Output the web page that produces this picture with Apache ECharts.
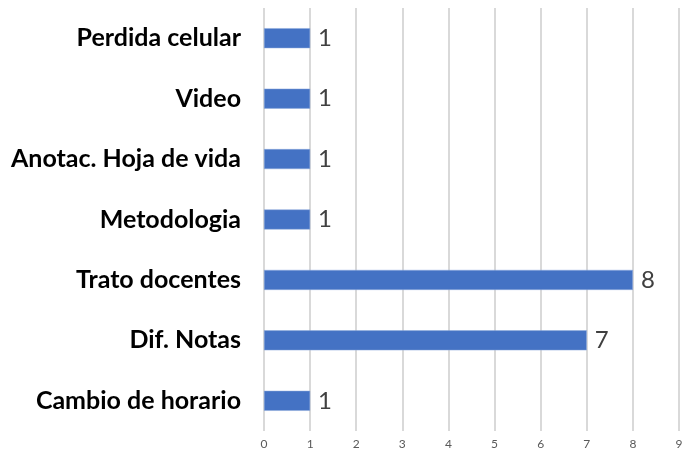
<!DOCTYPE html>
<html>
<head>
<meta charset="utf-8">
<script src="https://cdn.jsdelivr.net/npm/echarts@6/dist/echarts.min.js"></script>
<style>
  html, body { margin: 0; padding: 0; background: #ffffff; }
  #chart { width: 687px; height: 451px; }
</style>
</head>
<body>
<div id="chart"></div>
<script>
// Categories listed bottom to top, as drawn on the category axis
const categories = ['Cambio de horario', 'Dif. Notas', 'Trato docentes', 'Metodologia', 'Anotac. Hoja de vida', 'Video', 'Perdida celular'];
const values = [1, 7, 8, 1, 1, 1, 1];
const xTicks = [0, 1, 2, 3, 4, 5, 6, 7, 8, 9];

const chart = echarts.init(document.getElementById('chart'), null, { renderer: 'canvas' });
chart.setOption({
  animation: false,
  grid: { left: 264, right: 8, top: 8, bottom: 20, containLabel: false },
  xAxis: {
    type: 'value',
    min: xTicks[0],
    max: xTicks[xTicks.length - 1],
    interval: 1,
    axisLine: { show: false },
    axisTick: { show: false },
    splitLine: { show: true, lineStyle: { color: '#d9d9d9', width: 2 } },
    axisLabel: { color: '#595959', fontSize: 12, fontFamily: 'Lato, sans-serif', margin: 7 }
  },
  yAxis: {
    type: 'category',
    data: categories,
    axisLine: { show: false },
    axisTick: { show: false },
    axisLabel: { color: '#000000', fontSize: 25, fontWeight: 'bold', fontFamily: 'Lato, sans-serif', margin: 23 }
  },
  series: [{
    type: 'bar',
    data: values,
    barWidth: 20,
    itemStyle: { color: '#4472c4', borderColor: '#8faadc', borderWidth: 0.5 },
    label: { show: true, position: 'right', distance: 8, color: '#404040', fontSize: 24, fontFamily: 'Lato, sans-serif' }
  }]
});
</script>
</body>
</html>
